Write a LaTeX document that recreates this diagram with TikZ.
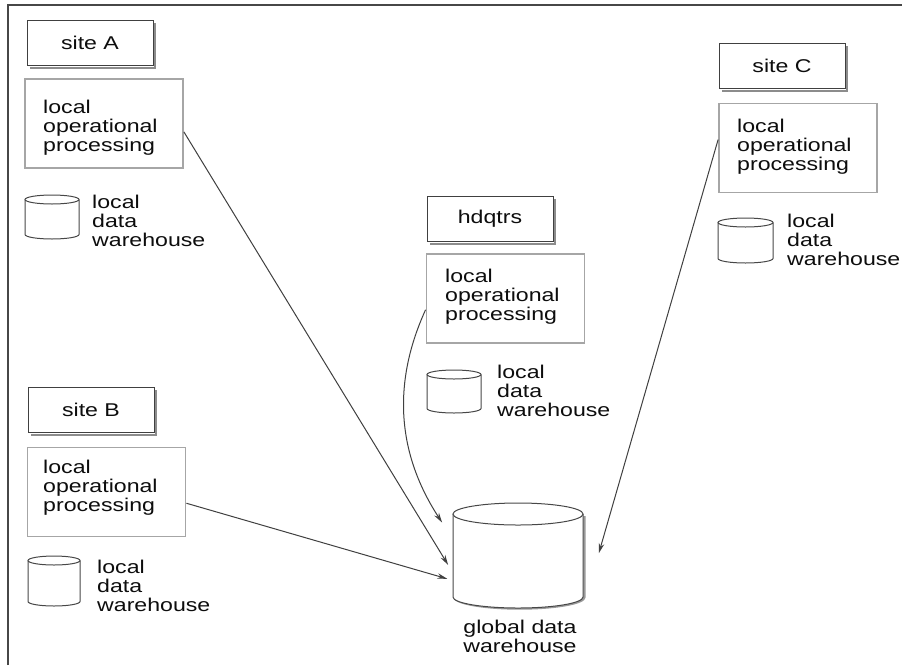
\documentclass[tikz,border=0pt]{standalone}
\usepackage{fontspec}
\setmainfont{Liberation Sans}[FakeStretch=1.25]
\usetikzlibrary{arrows.meta,calc}

\begin{document}
\begin{tikzpicture}[x=1pt,y=-1pt,
  lbl/.style={font=\fontsize{18.5}{19}\selectfont, text=black!95, inner sep=0pt},
  txt/.style={lbl, align=left, anchor=base west},
  sitebox/.style={lbl, draw=black!75, line width=1pt, minimum width=126pt, minimum height=45pt},
  boxshade/.style={draw=black!45, line width=2pt},
  opbox/.style={draw=black!35, line width=1.8pt, minimum width=158pt, minimum height=89pt, inner sep=0pt},
  holder/.style={inner sep=0pt, outer sep=0pt},
  cylline/.style={draw=black!72, line width=1pt, fill=white},
  cylshade/.style={draw=black!40, line width=2.4pt},
  flow/.style={draw=black!75, line width=1pt, -{Stealth[length=10pt,width=5.5pt]}},
  frame/.style={draw=black!72, line width=1.6pt},
]
\useasboundingbox (0,0) rectangle (902,665);
\fill[white] (0,0) rectangle (902,665);

% page frame
\draw[frame] (8,665) -- (8,5) -- (902,5);

% site labels
\node[sitebox] (siteA) at (90,43)    {site A};
\node[sitebox] (siteB) at (91,410)   {site B};
\node[sitebox] (siteC) at (782,66)   {site C};
\node[sitebox] (hq)    at (490,219)  {hdqtrs};
\foreach \n in {siteA,siteB,siteC,hq}
  \draw[boxshade] ($(\n.north east)+(1.6,3)$) -- ($(\n.south east)+(1.6,1.6)$) -- ($(\n.south west)+(3,1.6)$);

% local operational processing boxes (text anchored at the last baseline)
\node[opbox] (opA) at (104,123.5) {};
\node[opbox] (opB) at (106.5,492) {};
\node[opbox] (opH) at (505.5,298.5) {};
\node[opbox] (opC) at (798,148) {};
\node[txt] (opAt) at (43,151)  {local\\operational\\processing};
\node[txt] (opBt) at (43,511)  {local\\operational\\processing};
\node[txt] (opHt) at (445,320) {local\\operational\\processing};
\node[txt] (opCt) at (737,170) {local\\operational\\processing};

% local data warehouses
\foreach \n/\cx/\cy/\w/\h/\r in {cylA/52/217/54/44/4.5, cylB/54/581/52/50/4.5, cylH/454/391.5/54/43/4.5, cylC/745.5/240.5/55/45/4.5}{
  \node[holder, minimum width=\w pt, minimum height=\h pt] (\n) at (\cx,\cy) {};
  \draw[cylline] (\cx+\w/2,\cy-\h/2+\r) -- (\cx+\w/2,\cy+\h/2-\r)
    arc[start angle=0, end angle=180, x radius=\w/2, y radius=\r] -- (\cx-\w/2,\cy-\h/2+\r);
  \draw[cylline] (\cx,\cy-\h/2+\r) ellipse[x radius=\w/2, y radius=\r];
}
\node[txt] (cylAt) at (92,246)  {local\\data\\warehouse};
\node[txt] (cylBt) at (97,611)  {local\\data\\warehouse};
\node[txt] (cylHt) at (497,416) {local\\data\\warehouse};
\node[txt] (cylCt) at (787,265) {local\\data\\warehouse};

% global data warehouse
\node[holder, minimum width=130pt, minimum height=105pt] (gdw) at (518,555.5) {};
\draw[cylshade] (584.5,516) -- (584.5,597) arc[start angle=0, end angle=180, x radius=65, y radius=11.5];
\draw[cylline] (583,514) -- (583,597) arc[start angle=0, end angle=180, x radius=65, y radius=11] -- (453,514);
\draw[cylline] (518,514) ellipse[x radius=65, y radius=11];
\node[lbl, align=center, anchor=base] (gdwt) at (520,652) {global data\\warehouse};

% feeds into the global warehouse
\draw[flow, shorten >=9.4pt] (opA.-6) -- (gdw.195);
\draw[flow, shorten >=6pt] (opB.-8) -- (gdw.201);
\draw[flow, shorten >=20pt] (opH.188) .. controls +(-32,70) and +(-58,-89) .. (gdw.166);
\draw[flow, shorten >=57pt] (opC.174) -- (gdw.south east);
\end{tikzpicture}
\end{document}
